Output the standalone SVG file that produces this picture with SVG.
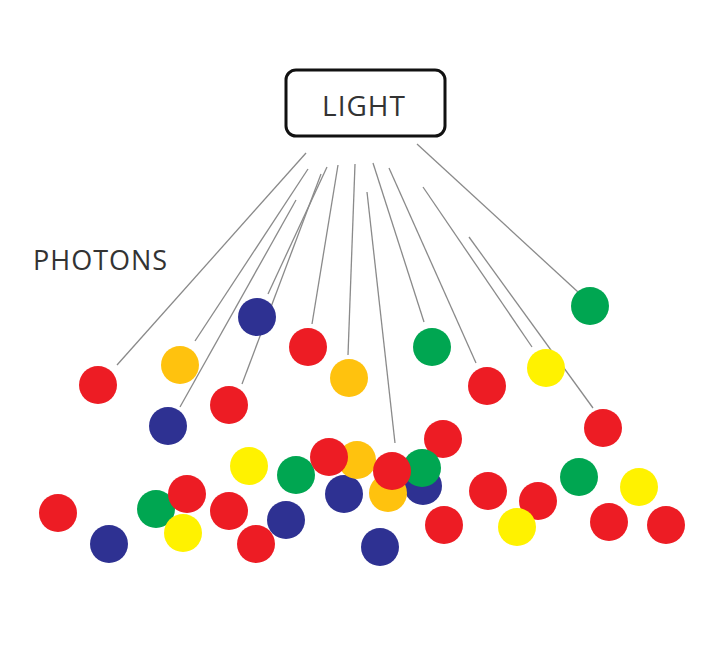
<svg xmlns="http://www.w3.org/2000/svg" width="728" height="664" viewBox="0 0 728 664">
<style>
.r{fill:#ED1C24}.o{fill:#FFC20E}.y{fill:#FFF200}.g{fill:#00A651}.b{fill:#2E3192}
.l line{stroke:#8a8a8a;stroke-width:1.3}
text{font-family:"Open Sans","Liberation Sans",sans-serif;fill:#333}
</style>
<rect width="728" height="664" fill="#fff"/>
<g id="light">
<rect x="286" y="70" width="159" height="66" rx="10" fill="#fff" stroke="#111" stroke-width="3"/>
<text x="364" y="116" font-size="28" text-anchor="middle" letter-spacing="1">LIGHT</text>
</g>
<text id="photons" x="33" y="270" font-size="27" letter-spacing="1">PHOTONS</text>
<g id="rays" class="l">
<line x1="306" y1="153" x2="117" y2="365"/>
<line x1="308" y1="169" x2="195" y2="341"/>
<line x1="296" y1="200" x2="180" y2="407"/>
<line x1="327" y1="167" x2="268" y2="294"/>
<line x1="321" y1="174" x2="242" y2="384"/>
<line x1="338" y1="165" x2="312" y2="324"/>
<line x1="355" y1="164" x2="348" y2="355"/>
<line x1="367" y1="192" x2="395" y2="443"/>
<line x1="373" y1="163" x2="424" y2="322"/>
<line x1="389" y1="168" x2="476" y2="363"/>
<line x1="423" y1="187" x2="532" y2="347"/>
<line x1="469" y1="237" x2="593" y2="408"/>
<line x1="417" y1="144" x2="578" y2="292"/>
</g>
<g id="photons-dots">
<circle class="g" cx="590" cy="306" r="19"/>
<circle class="r" cx="98" cy="385" r="19"/>
<circle class="o" cx="180" cy="365" r="19"/>
<circle class="b" cx="257" cy="317" r="19"/>
<circle class="r" cx="308" cy="347" r="19"/>
<circle class="o" cx="349" cy="378" r="19"/>
<circle class="g" cx="432" cy="347" r="19"/>
<circle class="r" cx="487" cy="386" r="19"/>
<circle class="y" cx="546" cy="368" r="19"/>
<circle class="b" cx="168" cy="426" r="19"/>
<circle class="r" cx="229" cy="405" r="19"/>
<circle class="r" cx="603" cy="428" r="19"/>
<circle class="r" cx="443" cy="439" r="19"/>
<circle class="y" cx="249" cy="466" r="19"/>
<circle class="g" cx="296" cy="475" r="19"/>
<circle class="b" cx="423" cy="486" r="19"/>
<circle class="g" cx="422" cy="468" r="19"/>
<circle class="o" cx="388" cy="493" r="19"/>
<circle class="b" cx="344" cy="494" r="19"/>
<circle class="o" cx="357" cy="460" r="19"/>
<circle class="r" cx="329" cy="457" r="19"/>
<circle class="r" cx="392" cy="471" r="19"/>
<circle class="r" cx="58" cy="513" r="19"/>
<circle class="b" cx="109" cy="544" r="19"/>
<circle class="g" cx="156" cy="509" r="19"/>
<circle class="r" cx="187" cy="494" r="19"/>
<circle class="y" cx="183" cy="533" r="19"/>
<circle class="r" cx="229" cy="511" r="19"/>
<circle class="r" cx="256" cy="544" r="19"/>
<circle class="b" cx="286" cy="520" r="19"/>
<circle class="b" cx="380" cy="547" r="19"/>
<circle class="r" cx="444" cy="525" r="19"/>
<circle class="r" cx="488" cy="491" r="19"/>
<circle class="r" cx="538" cy="501" r="19"/>
<circle class="y" cx="517" cy="527" r="19"/>
<circle class="g" cx="579" cy="477" r="19"/>
<circle class="y" cx="639" cy="487" r="19"/>
<circle class="r" cx="609" cy="522" r="19"/>
<circle class="r" cx="666" cy="525" r="19"/>
</g>
</svg>
